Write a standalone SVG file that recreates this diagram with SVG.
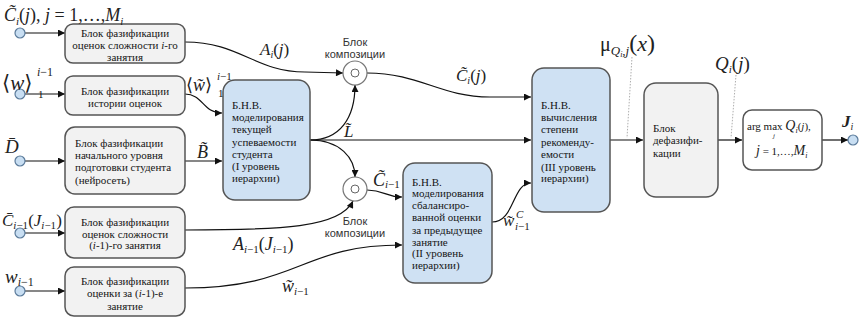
<svg xmlns="http://www.w3.org/2000/svg" width="859" height="320" viewBox="0 0 859 320">
<defs>
<marker id="ar" viewBox="0 0 10 10" refX="10" refY="5" markerWidth="8" markerHeight="7" markerUnits="userSpaceOnUse" orient="auto"><path d="M0,0 L10,5 L0,10 z" fill="#111"/></marker>
<style>
.gb{fill:#f2f2f2;stroke:#555;stroke-width:1.5}
.bb{fill:#cfe1f3;stroke:#555;stroke-width:1.5}
.wb{fill:#fff;stroke:#555;stroke-width:1.5}
.in{fill:#c8def2;stroke:#5b7b9b;stroke-width:1.2}
.cc{fill:#fff;stroke:#777;stroke-width:1.2}
.t{font-family:'Liberation Serif','Times New Roman','DejaVu Serif',serif;font-size:11px;fill:#151515}
.tc{text-anchor:middle}
.s{font-family:'Liberation Sans',Arial,sans-serif;font-size:11px;fill:#333;text-anchor:middle}
.m{font-family:'Liberation Serif','Times New Roman','DejaVu Serif',serif;font-style:italic;fill:#222}
.n{font-style:normal}
.c{fill:none;stroke:#111;stroke-width:1.2}
.d{fill:none;stroke:#999;stroke-width:0.8;stroke-dasharray:1.5 1.5}
</style>
</defs>

<g id="connectors">
<line class="c" x1="25" y1="33" x2="65" y2="33" marker-end="url(#ar)"/>
<line class="c" x1="25" y1="94" x2="65" y2="94" marker-end="url(#ar)"/>
<line class="c" x1="25" y1="161" x2="65" y2="161" marker-end="url(#ar)"/>
<line class="c" x1="25" y1="233" x2="65" y2="233" marker-end="url(#ar)"/>
<line class="c" x1="25" y1="291" x2="65" y2="291" marker-end="url(#ar)"/>
<path class="c" d="M185,42 C240,42 255,72 305,72 L343,73" marker-end="url(#ar)"/>
<path class="c" d="M185,94 C203,94 203,113 222,113" marker-end="url(#ar)"/>
<line class="c" x1="185" y1="161" x2="222" y2="161" marker-end="url(#ar)"/>
<path class="c" d="M310,140 C340,140 355,118 355,85" marker-end="url(#ar)"/>
<line class="c" x1="310" y1="140" x2="531" y2="140" marker-end="url(#ar)"/>
<path class="c" d="M310,140 C340,140 355,158 355,177" marker-end="url(#ar)"/>
<path class="c" d="M367,73 C420,73 440,97 490,97 L531,97" marker-end="url(#ar)"/>
<path class="c" d="M367,190 C385,190 385,197 402,197" marker-end="url(#ar)"/>
<path class="c" d="M185,230 C280,230 340,228 353,201" marker-end="url(#ar)"/>
<path class="c" d="M185,288 C300,288 300,245 402,245" marker-end="url(#ar)"/>
<path class="c" d="M492,222 C515,222 512,183 531,183" marker-end="url(#ar)"/>
<line class="c" x1="610" y1="140" x2="643" y2="140" marker-end="url(#ar)"/>
<line class="c" x1="718" y1="140" x2="742" y2="140" marker-end="url(#ar)"/>
<line class="c" x1="822" y1="140" x2="848" y2="140" marker-end="url(#ar)"/>
<line class="d" x1="632" y1="57" x2="627" y2="138"/>
<line class="d" x1="736" y1="75" x2="731" y2="138"/>
</g>

<g id="in1"><circle class="in" cx="20" cy="33" r="5"/></g>
<g id="in2"><circle class="in" cx="20" cy="94" r="5"/></g>
<g id="in3"><circle class="in" cx="20" cy="161" r="5"/></g>
<g id="in4"><circle class="in" cx="20" cy="233" r="5"/></g>
<g id="in5"><circle class="in" cx="20" cy="291" r="5"/></g>
<g id="out"><circle class="in" cx="853" cy="140" r="5"/></g>

<g id="box1"><rect class="gb" x="65" y="24" width="120" height="39" rx="8"/>
<text class="t tc" x="125" y="37">Блок фазификации</text>
<text class="t tc" x="125" y="49">оценок сложности <tspan font-style="italic">i</tspan>-го</text>
<text class="t tc" x="125" y="61">занятия</text></g>

<g id="box2"><rect class="gb" x="65" y="76" width="120" height="39" rx="8"/>
<text class="t tc" x="125" y="95">Блок фазификации</text>
<text class="t tc" x="125" y="107">истории оценок</text></g>

<g id="box3"><rect class="gb" x="65" y="127" width="120" height="67" rx="10"/>
<text class="t" x="75" y="147">Блок фазификации</text>
<text class="t" x="75" y="159">начального уровня</text>
<text class="t" x="75" y="171">подготовки студента</text>
<text class="t" x="75" y="184">(нейросеть)</text></g>

<g id="box4"><rect class="gb" x="65" y="207" width="120" height="51" rx="9"/>
<text class="t tc" x="125" y="226">Блок фазификации</text>
<text class="t tc" x="125" y="238">оценок сложности</text>
<text class="t tc" x="125" y="249">(<tspan font-style="italic">i</tspan>-1)-го занятия</text></g>

<g id="box5"><rect class="gb" x="65" y="267" width="120" height="49" rx="9"/>
<text class="t tc" x="125" y="285">Блок фазификации</text>
<text class="t tc" x="125" y="297">оценки за (<tspan font-style="italic">i</tspan>-1)-е</text>
<text class="t tc" x="125" y="310">занятие</text></g>

<g id="bnv1"><rect class="bb" x="223" y="80" width="87" height="120" rx="12"/>
<text class="t" x="232" y="109">Б.Н.В.</text>
<text class="t" x="232" y="121">моделирования</text>
<text class="t" x="232" y="133">текущей</text>
<text class="t" x="232" y="146">успеваемости</text>
<text class="t" x="232" y="158">студента</text>
<text class="t" x="232" y="170">(I уровень</text>
<text class="t" x="232" y="182">иерархии)</text></g>

<g id="comp1"><circle class="cc" cx="355" cy="73" r="12"/><circle fill="none" stroke="#666" stroke-width="1" cx="355" cy="73" r="4"/>
<text class="s" x="355" y="46">Блок</text>
<text class="s" x="355" y="58">композиции</text></g>

<g id="comp2"><circle class="cc" cx="355" cy="189" r="12"/><circle fill="none" stroke="#666" stroke-width="1" cx="355" cy="189" r="4"/>
<text class="s" x="355" y="225">Блок</text>
<text class="s" x="355" y="237">композиции</text></g>

<g id="bnv2"><rect class="bb" x="403" y="163" width="89" height="120" rx="12"/>
<text class="t" x="412" y="186">Б.Н.В.</text>
<text class="t" x="412" y="197">моделирования</text>
<text class="t" x="412" y="209">сбалансиро-</text>
<text class="t" x="412" y="221">ванной оценки</text>
<text class="t" x="412" y="234">за предыдущее</text>
<text class="t" x="412" y="246">занятие</text>
<text class="t" x="412" y="257">(II уровень</text>
<text class="t" x="412" y="269">иерархии)</text></g>

<g id="bnv3"><rect class="bb" x="532" y="68" width="78" height="144" rx="12"/>
<text class="t" x="541" y="109">Б.Н.В.</text>
<text class="t" x="541" y="121">вычисления</text>
<text class="t" x="541" y="133">степени</text>
<text class="t" x="541" y="146">рекоменду-</text>
<text class="t" x="541" y="158">емости</text>
<text class="t" x="541" y="171">(III уровень</text>
<text class="t" x="541" y="182">иерархии)</text></g>

<g id="defuzz"><rect class="gb" x="644" y="83" width="74" height="114" rx="12"/>
<text class="t" x="653" y="132">Блок</text>
<text class="t" x="653" y="144">дефазифи-</text>
<text class="t" x="653" y="157">кации</text></g>

<g id="argmax"><rect class="wb" x="743" y="110" width="79" height="60" rx="9"/>
<text class="t" x="747" y="130" font-size="12">arg max <tspan class="m" font-size="14">Q</tspan><tspan class="m" font-size="8" dy="3">i</tspan><tspan dy="-3">(</tspan><tspan class="m">j</tspan>),</text>
<text class="m" x="773" y="138" font-size="7">j</text>
<text class="t" x="756" y="155" font-size="12"><tspan class="m" font-size="14">j</tspan> = 1,…,<tspan class="m" font-size="14">M</tspan><tspan class="m" font-size="8" dy="3">i</tspan></text></g>

<g id="labels">
<text class="m" x="4" y="21" font-size="18">C&#771;<tspan font-size="11" dy="4">i</tspan><tspan dy="-4" class="n">(</tspan>j<tspan class="n">),   </tspan>j<tspan class="n"> = 1,…,</tspan>M<tspan font-size="11" dy="4">i</tspan></text>
<text class="m" x="2" y="90" font-size="21"><tspan class="n">⟨</tspan>w<tspan class="n">⟩</tspan></text>
<text class="m" x="37" y="76" font-size="12">i<tspan class="n">−1</tspan></text>
<text class="t" x="38" y="98" font-size="12">1</text>
<text class="m" x="186" y="91" font-size="18"><tspan class="n">⟨</tspan>w&#771;<tspan class="n">⟩</tspan></text>
<text class="m" x="217" y="80" font-size="11">i<tspan class="n">−1</tspan></text>
<text class="t" x="218" y="97">1</text>
<text class="m" x="5" y="153" font-size="19">D&#772;</text>
<text class="m" x="197" y="158" font-size="18">B&#771;</text>
<text class="m" x="2" y="226" font-size="17">C&#772;<tspan font-size="11" dy="3">i</tspan><tspan font-size="11" class="n">−1</tspan><tspan dy="-3" class="n">(</tspan>J<tspan font-size="11" dy="3">i</tspan><tspan font-size="11" class="n">−1</tspan><tspan dy="-3" class="n">)</tspan></text>
<text class="m" x="5" y="283" font-size="19">w<tspan font-size="12" dy="3">i</tspan><tspan font-size="12" class="n">−1</tspan></text>
<text class="m" x="260" y="55" font-size="17">A<tspan font-size="10" dy="3">i</tspan><tspan dy="-3" class="n">(</tspan>j<tspan class="n">)</tspan></text>
<text class="m" x="344" y="137" font-size="17">L&#771;</text>
<text class="m" x="373" y="186" font-size="18">C&#771;<tspan font-size="11" dy="2">i</tspan><tspan font-size="11" class="n">−1</tspan></text>
<text class="m" x="233" y="250" font-size="18">A<tspan font-size="11" dy="3">i</tspan><tspan font-size="11" class="n">−1</tspan><tspan dy="-3" class="n">(</tspan>J<tspan font-size="11" dy="3">i</tspan><tspan font-size="11" class="n">−1</tspan><tspan dy="-3" class="n">)</tspan></text>
<text class="m" x="282" y="292" font-size="18">w&#771;<tspan font-size="11" dy="3">i</tspan><tspan font-size="11" class="n">−1</tspan></text>
<text class="m" x="456" y="81" font-size="17">C&#771;<tspan font-size="10" dy="3">i</tspan><tspan dy="-3" class="n">(</tspan>j<tspan class="n">)</tspan></text>
<text class="m" x="503" y="226" font-size="17">w&#771;</text>
<text class="m" x="516" y="218" font-size="11">C</text>
<text class="m" x="515" y="230" font-size="11">i<tspan class="n">−1</tspan></text>
<text class="m" x="600" y="51" font-size="20"><tspan class="n">μ</tspan><tspan font-size="13" dy="4">Q</tspan><tspan font-size="8" dy="2">i</tspan><tspan font-size="13" dy="-2">,j</tspan><tspan font-size="24" dy="-4" class="n">(</tspan><tspan font-size="22">x</tspan><tspan font-size="24" class="n">)</tspan></text>
<text class="m" x="715" y="70" font-size="19">Q<tspan font-size="11" dy="3">i</tspan><tspan dy="-3" class="n">(</tspan>j<tspan class="n">)</tspan></text>
<text class="m" x="842" y="127" font-size="17" font-weight="bold">J<tspan font-size="10" dy="3" font-weight="normal">i</tspan></text>
</g>
</svg>
